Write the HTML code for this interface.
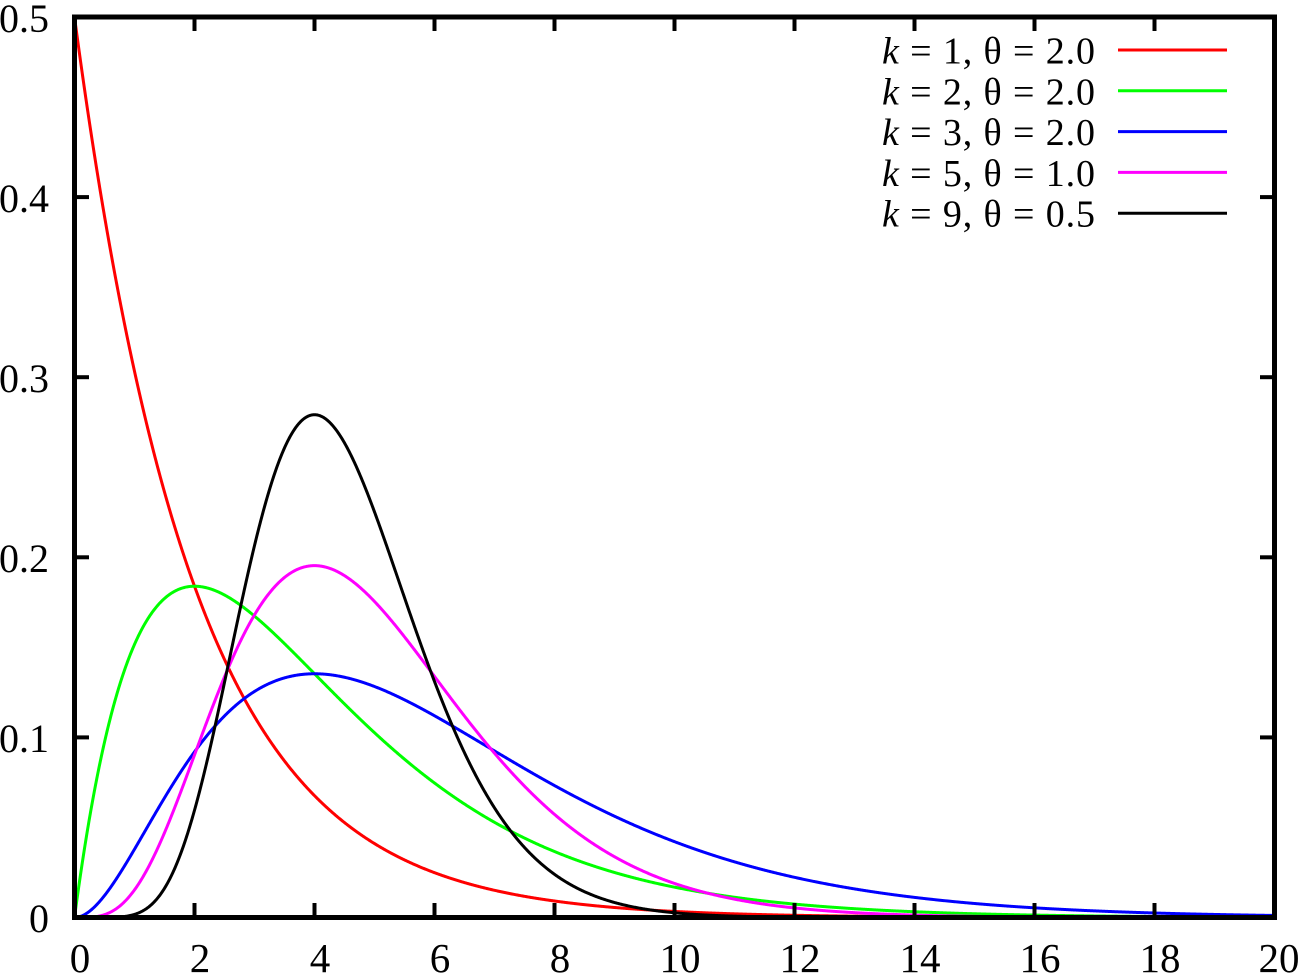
<!DOCTYPE html>
<html>
<head>
<meta charset="utf-8">
<style>
html,body{margin:0;padding:0;background:#fff;}
svg{display:block;}
text{font-family:"Liberation Serif","DejaVu Serif",serif;fill:#000;}
</style>
</head>
<body>
<svg id="chart" width="1300" height="975" viewBox="0 0 1300 975" xmlns="http://www.w3.org/2000/svg">
  <rect x="0" y="0" width="1300" height="975" fill="#fff"/>
  <defs>
    <clipPath id="clip"><rect x="74.5" y="17" width="1200" height="900.5"/></clipPath>
  </defs>
  <g id="curves" clip-path="url(#clip)" fill="none" stroke-width="3" stroke-linejoin="round" stroke-linecap="round">
    <path id="c1" stroke="#ff0000"/>
    <path id="c2" stroke="#00ff00"/>
    <path id="c3" stroke="#0000ff"/>
    <path id="c4" stroke="#ff00ff"/>
    <path id="c5" stroke="#000000"/>
  </g>
  <g id="ticks" stroke="#000" stroke-width="4"></g>
  <rect x="74.5" y="17" width="1200" height="900.5" fill="none" stroke="#000" stroke-width="5"/>

  <!-- Y labels -->
  <g font-size="40" text-anchor="end">
    <text x="49" y="932">0</text>
    <text x="49" y="752">0.1</text>
    <text x="49" y="572">0.2</text>
    <text x="49" y="392">0.3</text>
    <text x="49" y="212">0.4</text>
    <text x="49" y="32">0.5</text>
  </g>
  <!-- X labels -->
  <g font-size="41" text-anchor="middle">
    <text x="80" y="972">0</text>
    <text x="200" y="972">2</text>
    <text x="320" y="972">4</text>
    <text x="440" y="972">6</text>
    <text x="560" y="972">8</text>
    <text x="680" y="972">10</text>
    <text x="800" y="972">12</text>
    <text x="920" y="972">14</text>
    <text x="1040" y="972">16</text>
    <text x="1160" y="972">18</text>
    <text x="1279" y="972">20</text>
  </g>

  <!-- Legend -->
  <g font-size="38">
    <text x="882" y="63.5" textLength="213" lengthAdjust="spacing"><tspan font-style="italic">k</tspan> = 1, θ = 2.0</text>
    <text x="882" y="104.3" textLength="213" lengthAdjust="spacing"><tspan font-style="italic">k</tspan> = 2, θ = 2.0</text>
    <text x="882" y="145.1" textLength="213" lengthAdjust="spacing"><tspan font-style="italic">k</tspan> = 3, θ = 2.0</text>
    <text x="882" y="185.9" textLength="213" lengthAdjust="spacing"><tspan font-style="italic">k</tspan> = 5, θ = 1.0</text>
    <text x="882" y="226.7" textLength="213" lengthAdjust="spacing"><tspan font-style="italic">k</tspan> = 9, θ = 0.5</text>
  </g>
  <g stroke-width="3">
    <line x1="1118" y1="50" x2="1227" y2="50" stroke="#ff0000"/>
    <line x1="1118" y1="90.8" x2="1227" y2="90.8" stroke="#00ff00"/>
    <line x1="1118" y1="131.6" x2="1227" y2="131.6" stroke="#0000ff"/>
    <line x1="1118" y1="172.4" x2="1227" y2="172.4" stroke="#ff00ff"/>
    <line x1="1118" y1="213.2" x2="1227" y2="213.2" stroke="#000000"/>
  </g>
</svg>
<script>
(function(){
  var X0=74.5, SX=60, Y0=917.5, SY=1801;
  function gamma(n){var r=1;for(var i=2;i<n;i++)r*=i;return r;}
  function pdf(x,k,t){
    if(x<=0){return k===1?1/t:0;}
    return Math.pow(x,k-1)*Math.exp(-x/t)/(gamma(k)*Math.pow(t,k));
  }
  var params=[[1,2],[2,2],[3,2],[5,1],[9,0.5]];
  for(var c=0;c<params.length;c++){
    var k=params[c][0],t=params[c][1],d="";
    var N=2000;
    for(var i=0;i<=N;i++){
      var x=20*i/N;
      var y=pdf(x,k,t);
      var px=X0+SX*x, py=Y0-SY*y;
      d+=(i===0?"M":"L")+px.toFixed(2)+" "+py.toFixed(2)+" ";
    }
    document.getElementById("c"+(c+1)).setAttribute("d",d);
  }
  var g=document.getElementById("ticks"),ns="http://www.w3.org/2000/svg";
  function ln(x1,y1,x2,y2){var l=document.createElementNS(ns,"line");l.setAttribute("x1",x1);l.setAttribute("y1",y1);l.setAttribute("x2",x2);l.setAttribute("y2",y2);g.appendChild(l);}
  for(var i=0;i<=10;i++){
    var x=X0+120*i;
    ln(x,917.5,x,903);
    ln(x,17,x,31);
  }
  for(var j=0;j<=5;j++){
    var y=Y0-180.1*j;
    ln(74.5,y,89,y);
    ln(1274.5,y,1260,y);
  }
})();
</script>
</body>
</html>
